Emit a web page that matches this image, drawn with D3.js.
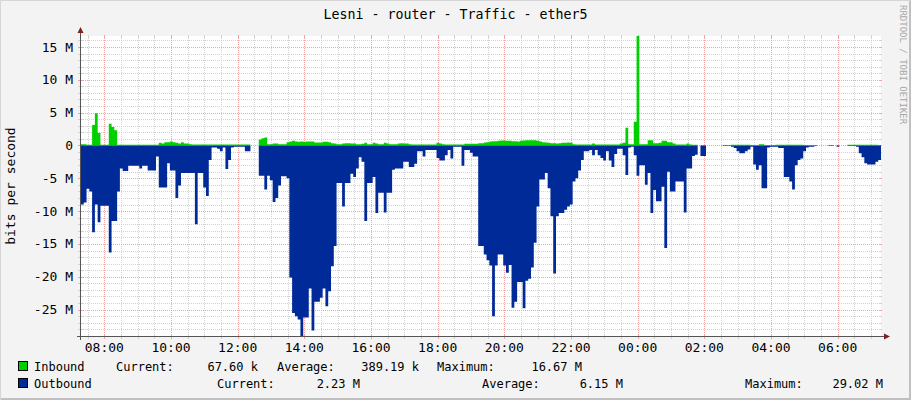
<!DOCTYPE html>
<html>
<head>
<meta charset="utf-8">
<script src="https://cdn.jsdelivr.net/npm/d3@7"></script>
<style>
  body { margin: 0; background: #f3f3f3; }
  svg { display: block; }
  text { font-family: "DejaVu Sans Mono", monospace; fill: #000; }
</style>
</head>
<body>
<div id="graph"></div>
<script>
// values in Mbit/s, one per 5 minutes, first sample at 07:18
const title = `Lesni - router - Traffic - ether5`;
const startTime = new Date(2024, 0, 1, 7, 18);
const stepMinutes = 5;

const inbound = [
  0.2, 0.2, 0.1, 0.1, 3.1, 4.9, 1.9, 0.1, 0.1, 0.1, 3.3, 2.8,
  2.3, 0.1, 0.1, 0.1, 0.1, 0.1, 0.1, 0.1, 0.1, 0.1, 0.1, 0.1,
  0.1, 0.1, 0.1, 0.1, 0.4, 0.3, 0.5, 0.5, 0.6, 0.5, 0.4, 0.3,
  0.5, 0.3, 0.3, 0.2, 0.15, 0.15, 0.15, 0.15, 0.15, 0.15, 0.15, 0.15,
  0.15, 0.15, 0.15, 0.15, 0.15, 0.15, 0.15, 0.15, 0.15, 0.15, 0.15, 0.15,
  0.15, null, null, null, 0.9, 1.1, 1.2, 0.2, 0.2, 0.3, 0.3, 0.2,
  0.2, 0.2, 0.5, 0.6, 0.7, 0.6, 0.55, 0.6, 0.55, 0.6, 0.6, 0.6,
  0.45, 0.45, 0.45, 0.55, 0.55, 0.5, 0.35, 0.3, 0.2, 0.2, 0.3, 0.35,
  0.35, 0.3, 0.3, 0.2, 0.2, 0.25, 0.4, 0.2, 0.2, 0.4, 0.3, 0.2,
  0.2, 0.4, 0.3, 0.2, 0.2, 0.2, 0.3, 0.35, 0.3, 0.3, 0.2, 0.15,
  0.15, 0.15, 0.15, 0.15, 0.15, 0.15, 0.15, 0.15, 0.4, 0.3, 0.2, 0.15,
  0.15, 0.15, 0.15, 0.15, 0.15, 0.15, 0.25, 0.25, 0.25, 0.25, 0.25, 0.33,
  0.35, 0.45, 0.5, 0.6, 0.65, 0.65, 0.7, 0.75, 0.75, 0.7, 0.7, 0.65,
  0.65, 0.6, 0.7, 0.75, 0.8, 0.8, 0.8, 0.8, 0.7, 0.6, 0.5, 0.45,
  0.4, 0.35, 0.35, 0.3, 0.35, 0.4, 0.4, 0.45, 0.4, 0.2, 0.15, 0.15,
  0.15, 0.15, 0.15, 0.15, 0.3, 0.15, 0.15, 0.15, 0.15, 0.15, 0.15, 0.15,
  0.15, 0.15, 0.3, 0.4, 2.7, 0.2, 0.2, 3.6, 16.67, 0.2, 0.2, 0.2,
  0.8, 0.8, 0.35, 0.35, 0.4, 0.7, 0.7, 0.5, 0.5, 0.3, 0.15, 0.15,
  0.15, 0.15, 0.3, 0.15, 0.1, 0.1, null, 0.05, 0.05, null, null, null,
  null, null, null, 0.05, 0.05, 0.05, 0.1, 0.1, 0.1, 0.1, 0.1, 0.1,
  0.1, 0.05, 0.05, 0.05, 0.2, 0.2, 0.05, 0.05, 0.05, 0.05, 0.1, 0.1,
  0.1, 0.1, 0.1, 0.1, 0.1, 0.1, 0.1, 0.1, 0.05, 0.05, 0.05, 0.05,
  0.05, null, null, null, null, 0.02, 0.02, null, 0.02, null, null, null,
  0.12, 0.12, 0.12, 0.12, 0.12, 0.12, 0.12, 0.12, 0.12, 0.12, 0.12, 0.0676
];

const outbound = [
  9.0, 8.7, 6.6, 7.0, 13.2, 9.0, 11.7, 9.2, 9.2, 9.2, 16.3, 11.5,
  11.5, 7.0, 3.5, 3.9, 3.9, 3.1, 3.1, 3.1, 3.1, 3.5, 3.1, 3.1,
  3.8, 3.8, 3.8, 1.7, 6.4, 6.4, 6.4, 2.7, 3.8, 3.8, 8.0, 6.1,
  4.2, 4.2, 4.2, 4.2, 4.2, 12.0, 4.2, 4.2, 6.4, 7.7, 2.2, 0.3,
  0.3, 0.5, 0.9, 0.3, 3.6, 2.2, 0.3, 0.2, 0.2, 0.2, 0.2, 0.9,
  0.9, null, null, null, 4.6, 4.6, 6.7, 4.6, 5.3, 8.6, 8.0, 6.1,
  4.7, 4.7, 5.0, 20.1, 25.5, 26.0, 26.5, 29.02, 26.2, 26.2, 21.8, 28.2,
  23.8, 23.8, 23.2, 21.8, 24.5, 22.2, 18.4, 15.3, 5.7, 5.7, 9.3, 5.7,
  5.7, 4.3, 4.8, 3.5, 1.8, 2.5, 11.5, 5.7, 5.7, 4.8, 10.3, 7.2,
  7.2, 10.2, 7.2, 7.2, 3.7, 3.5, 3.5, 3.5, 2.5, 2.5, 3.3, 3.3,
  2.8, 0.9, 0.9, 1.7, 0.7, 0.7, 0.7, 0.7, 1.9, 2.3, 2.3, 1.5,
  0.7, 2.0, 0.2, 0.2, 0.2, 3.1, 0.7, 0.7, 1.1, 1.7, 1.7, 15.3,
  15.3, 16.6, 17.5, 18.3, 26.0, 18.3, 16.6, 16.6, 18.3, 19.4, 18.2, 24.7,
  23.8, 20.8, 20.8, 24.8, 20.6, 20.3, 18.6, 14.8, 9.3, 5.2, 5.2, 4.2,
  6.5, 10.8, 19.5, 10.8, 10.3, 10.3, 9.8, 9.3, 9.0, 5.5, 5.0, 3.8,
  2.2, 0.9, 0.9, 0.7, 1.5, 0.7, 1.5, 1.9, 2.3, 0.9, 2.3, 3.3,
  1.3, 0.5, 0.5, 1.5, 4.5, 0.3, 0.2, 1.5, 4.6, 3.0, 3.0, 6.0,
  4.2, 10.3, 6.8, 8.5, 8.5, 6.3, 15.6, 4.0, 7.0, 7.0, 5.5, 5.5,
  5.5, 10.2, 3.5, 3.5, 1.6, 1.4, null, 1.6, 1.6, null, null, null,
  null, null, null, 0.1, 0.1, 0.1, 0.2, 0.4, 0.9, 1.2, 1.2, 0.9,
  0.6, 0.2, 2.9, 3.7, 3.0, 6.5, 6.5, 0.3, 0.2, 0.2, 0.2, 0.4,
  0.4, 4.8, 4.8, 5.5, 6.7, 3.0, 2.2, 2.0, 0.9, 0.3, 0.2, 0.2,
  0.1, null, null, null, null, 0.1, 0.1, null, 0.2, null, null, null,
  0.1, 0.1, 0.1, 0.2, 1.2, 1.8, 2.7, 2.9, 2.9, 2.9, 2.5, 2.23
];

const yMajorTicks = [15, 10, 5, 0, -5, -10, -15, -20, -25];
const yTickLabels = [`15 M`, `10 M`, `5 M`, `0`, `-5 M`, `-10 M`, `-15 M`, `-20 M`, `-25 M`];
const statNames = [`Current:`, `Average:`, `Maximum:`];
const inboundStats = [`67.60 k`, `389.19 k`, `16.67 M`];
const outboundStats = [`2.23 M`, `6.15 M`, `29.02 M`];
const seriesNames = [`Inbound`, `Outbound`];

class TrafficGraph {
  constructor(el) {
    this.el = el;
    this.width = 911;
    this.height = 400;
    this.left = 81;
    this.right = 881;
    this.top = 36;
    this.bottom = 336;
    this.inColor = `#00cf00`;
    this.outColor = `#002a97`;
    this.endTime = d3.timeMinute.offset(startTime, inbound.length * stepMinutes);
    this.x = d3.scaleTime()
      .domain([startTime, this.endTime])
      .range([this.left, this.right]);
    this.y = d3.scaleLinear()
      .domain([-d3.max(outbound), d3.max(inbound)])
      .range([this.bottom, this.top]);
  }

  render() {
    this.svg = d3.select(this.el).append(`svg`)
      .attr(`width`, this.width)
      .attr(`height`, this.height);

    this.svg.append(`rect`)
      .attr(`width`, this.width).attr(`height`, this.height)
      .attr(`fill`, `#f3f3f3`);
    this.svg.append(`rect`)
      .attr(`x`, this.left).attr(`y`, this.top)
      .attr(`width`, this.right - this.left).attr(`height`, this.bottom - this.top)
      .attr(`fill`, `#fff`);

    this.drawGrid();
    this.drawAreas();
    this.drawAxes();
    this.drawText();
    this.drawLegend();
    this.drawFrame();
  }

  crisp(v) {
    return Math.round(v) + 0.5;
  }

  drawGrid() {
    const g = this.svg.append(`g`).attr(`class`, `grid`);
    const minorT = d3.timeMinute.every(30).range(startTime, this.endTime);
    const majorT = d3.timeHour.every(2).range(startTime, this.endTime);
    const minorY = d3.range(-29, 17).filter((v) => v % 5 !== 0);

    const vline = (t, color) => {
      const xx = this.crisp(this.x(t));
      g.append(`line`)
        .attr(`x1`, xx).attr(`x2`, xx)
        .attr(`y1`, this.top).attr(`y2`, this.bottom)
        .attr(`stroke`, color).attr(`stroke-dasharray`, `1,1`);
      g.append(`line`)
        .attr(`x1`, xx).attr(`x2`, xx)
        .attr(`y1`, this.top - 1).attr(`y2`, this.top + 2)
        .attr(`stroke`, color);
      g.append(`line`)
        .attr(`x1`, xx).attr(`x2`, xx)
        .attr(`y1`, this.bottom - 2).attr(`y2`, this.bottom + 3)
        .attr(`stroke`, color);
    };
    const hline = (v, color) => {
      const yy = this.crisp(this.y(v));
      g.append(`line`)
        .attr(`x1`, this.left).attr(`x2`, this.right)
        .attr(`y1`, yy).attr(`y2`, yy)
        .attr(`stroke`, color).attr(`stroke-dasharray`, `1,1`);
      g.append(`line`)
        .attr(`x1`, this.left - 3).attr(`x2`, this.left + 2)
        .attr(`y1`, yy).attr(`y2`, yy)
        .attr(`stroke`, color);
      g.append(`line`)
        .attr(`x1`, this.right - 2).attr(`x2`, this.right + 1)
        .attr(`y1`, yy).attr(`y2`, yy)
        .attr(`stroke`, color);
    };

    minorT.filter((t) => t.getMinutes() !== 0 || t.getHours() % 2 !== 0)
      .forEach((t) => vline(t, `#d2d2d2`));
    minorY.forEach((v) => hline(v, `#d2d2d2`));
    majorT.forEach((t) => vline(t, `#f2a4a4`));
    yMajorTicks.forEach((v) => hline(v, `#f2a4a4`));
  }

  steps(values, sign) {
    return values.flatMap((v, i) => [
      { t: d3.timeMinute.offset(startTime, i * stepMinutes), v: v === null ? null : sign * v },
      { t: d3.timeMinute.offset(startTime, (i + 1) * stepMinutes), v: v === null ? null : sign * v }
    ]);
  }

  drawAreas() {
    const area = d3.area()
      .defined((d) => d.v !== null)
      .x((d) => this.x(d.t))
      .y0(this.y(0))
      .y1((d) => this.y(d.v));

    this.svg.append(`path`)
      .datum(this.steps(inbound, 1))
      .attr(`d`, area)
      .attr(`fill`, this.inColor);
    this.svg.append(`path`)
      .datum(this.steps(outbound, -1))
      .attr(`d`, area)
      .attr(`fill`, this.outColor);
  }

  drawAxes() {
    const axisColor = `#555`;
    const arrowColor = `#7f1f1f`;
    const ax = this.left - 0.5;
    const ay = this.bottom + 0.5;

    this.svg.append(`line`)
      .attr(`x1`, ax).attr(`x2`, ax)
      .attr(`y1`, this.top - 4).attr(`y2`, this.bottom + 4)
      .attr(`stroke`, axisColor);
    this.svg.append(`line`)
      .attr(`x1`, this.left - 4).attr(`x2`, this.right + 3)
      .attr(`y1`, ay).attr(`y2`, ay)
      .attr(`stroke`, axisColor);

    this.svg.append(`path`)
      .attr(`d`, `M${ax - 3},${this.top - 3}L${ax + 3},${this.top - 3}L${ax},${this.top - 9}Z`)
      .attr(`fill`, arrowColor);
    this.svg.append(`path`)
      .attr(`d`, `M${this.right + 3},${ay - 3}L${this.right + 3},${ay + 3}L${this.right + 9},${ay}Z`)
      .attr(`fill`, arrowColor);

    const labels = this.svg.append(`g`).attr(`font-size`, 13);
    labels.selectAll(`.ylab`)
      .data(yMajorTicks)
      .enter().append(`text`)
        .attr(`class`, `ylab`)
        .attr(`x`, 73)
        .attr(`y`, (d) => this.y(d))
        .attr(`dy`, `0.35em`)
        .attr(`text-anchor`, `end`)
        .text((d, i) => yTickLabels[i]);

    labels.selectAll(`.xlab`)
      .data(d3.timeHour.every(2).range(startTime, this.endTime))
      .enter().append(`text`)
        .attr(`class`, `xlab`)
        .attr(`x`, (d) => this.x(d))
        .attr(`y`, 352)
        .attr(`text-anchor`, `middle`)
        .text(d3.timeFormat(`%H:%M`));
  }

  drawText() {
    this.svg.append(`text`)
      .attr(`x`, this.width / 2)
      .attr(`y`, 19)
      .attr(`text-anchor`, `middle`)
      .attr(`font-size`, 13.3)
      .text(title);

    this.svg.append(`text`)
      .attr(`transform`, `translate(15,186) rotate(-90)`)
      .attr(`text-anchor`, `middle`)
      .attr(`font-size`, 13)
      .text(`bits per second`);

    this.svg.append(`text`)
      .attr(`transform`, `translate(900,5) rotate(90)`)
      .attr(`font-size`, 9)
      .style(`fill`, `#a8a8a8`)
      .text(`RRDTOOL / TOBI OETIKER`);
  }

  drawLegend() {
    const g = this.svg.append(`g`).attr(`font-size`, 12);
    const rows = [
      { name: seriesNames[0], color: this.inColor, stats: inboundStats, y: 367,
        nameX: [116, 277, 437], valX: [258, 419, 582] },
      { name: seriesNames[1], color: this.outColor, stats: outboundStats, y: 384,
        nameX: [217, 482, 745], valX: [360, 623, 883] }
    ];

    rows.forEach((r) => {
      g.append(`rect`)
        .attr(`x`, 18.5).attr(`y`, r.y - 5.5)
        .attr(`width`, 9).attr(`height`, 9)
        .attr(`fill`, r.color).attr(`stroke`, `#000`);
      g.append(`text`).attr(`x`, 34).attr(`y`, r.y).attr(`dy`, `0.35em`).text(r.name);
      statNames.forEach((s, i) => {
        g.append(`text`).attr(`x`, r.nameX[i]).attr(`y`, r.y).attr(`dy`, `0.35em`).text(s);
        g.append(`text`).attr(`x`, r.valX[i]).attr(`y`, r.y).attr(`dy`, `0.35em`)
          .attr(`text-anchor`, `end`).text(r.stats[i]);
      });
    });
  }

  drawFrame() {
    this.svg.append(`path`)
      .attr(`d`, `M0.5,${this.height}V0.5H${this.width}`)
      .attr(`fill`, `none`).attr(`stroke`, `#d6d6d6`);
    this.svg.append(`path`)
      .attr(`d`, `M1,${this.height - 1}H${this.width - 1}V1`)
      .attr(`fill`, `none`).attr(`stroke`, `#c0c0c0`).attr(`stroke-width`, 2);
  }
}

new TrafficGraph(`#graph`).render();
</script>
</body>
</html>
